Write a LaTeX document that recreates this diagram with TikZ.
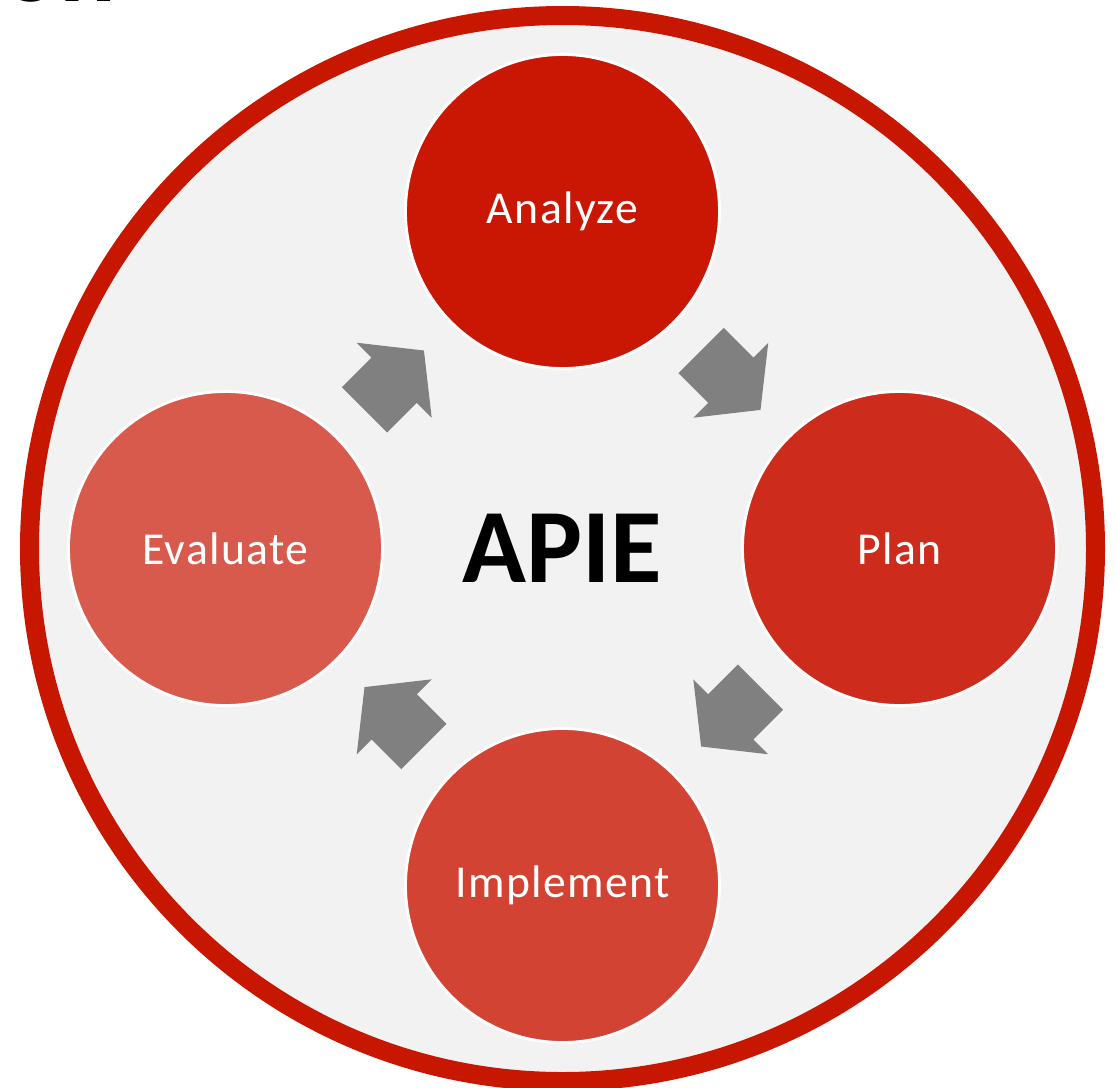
\documentclass[tikz,border=0pt]{standalone}
\usepackage{fontspec}
\setmainfont{Carlito}
\newfontfamily\stagefont[LetterSpace=3]{Carlito}
\usetikzlibrary{calc}
\definecolor{apieRing}{RGB}{200,23,0}
\definecolor{apieBg}{RGB}{242,242,242}
\definecolor{apieAnalyze}{RGB}{201,23,4}
\definecolor{apiePlan}{RGB}{205,43,28}
\definecolor{apieImplement}{RGB}{210,67,52}
\definecolor{apieEvaluate}{RGB}{216,90,77}
\definecolor{apieGrey}{RGB}{128,128,128}
\def\apiearrow(#1)(#2){\fill[apieGrey, shift={(#1)}, rotate=#2] (-0.42,-0.32) -- (0,-0.32) -- (0,-0.53) -- (0.42,0) -- (0,0.53) -- (0,0.32) -- (-0.42,0.32) -- cycle;}

\begin{document}
\begin{tikzpicture}[
		stage/.style={circle, minimum size=3.14cm, inner sep=0, draw=white, line width=0.8pt, text=white, font=\stagefont\fontsize{13}{15}\selectfont}
	]
		%%%%% START %%%%%
		\useasboundingbox (0, 0) rectangle (11.17, 10.87);
		
		\node[anchor=base east, inner sep=0, font=\bfseries\fontsize{30}{36}\selectfont] (title) at (1.17, 10.86) {tion};
		
		\coordinate (mid) at (5.625, 5.385);
		\draw[apieRing, line width=0.19cm, fill=apieBg] (mid) circle (5.33);
		
		\node[stage, fill=apieAnalyze] (analyze) at ($(mid)+(0, 3.37)$) {Analyze};
		\node[stage, fill=apiePlan] (plan) at ($(mid)+(3.37, 0)$) {Plan};
		\node[stage, fill=apieImplement] (implement) at ($(mid)+(0, -3.37)$) {Implement};
		\node[stage, fill=apieEvaluate] (evaluate) at ($(mid)+(-3.37, 0)$) {Evaluate};
		
		\node[font=\bfseries\fontsize{30}{36}\selectfont] (apie) at (mid) {APIE};
		
		\coordinate (arrEA) at ($(mid)+(135:2.38)$);
		\coordinate (arrAP) at ($(mid)+(45:2.38)$);
		\coordinate (arrPI) at ($(mid)+(-45:2.38)$);
		\coordinate (arrIE) at ($(mid)+(-135:2.38)$);
		\apiearrow(arrEA)(45)
		\apiearrow(arrAP)(-45)
		\apiearrow(arrPI)(-135)
		\apiearrow(arrIE)(135)
		%%%%% END %%%%%
\end{tikzpicture}
\end{document}
